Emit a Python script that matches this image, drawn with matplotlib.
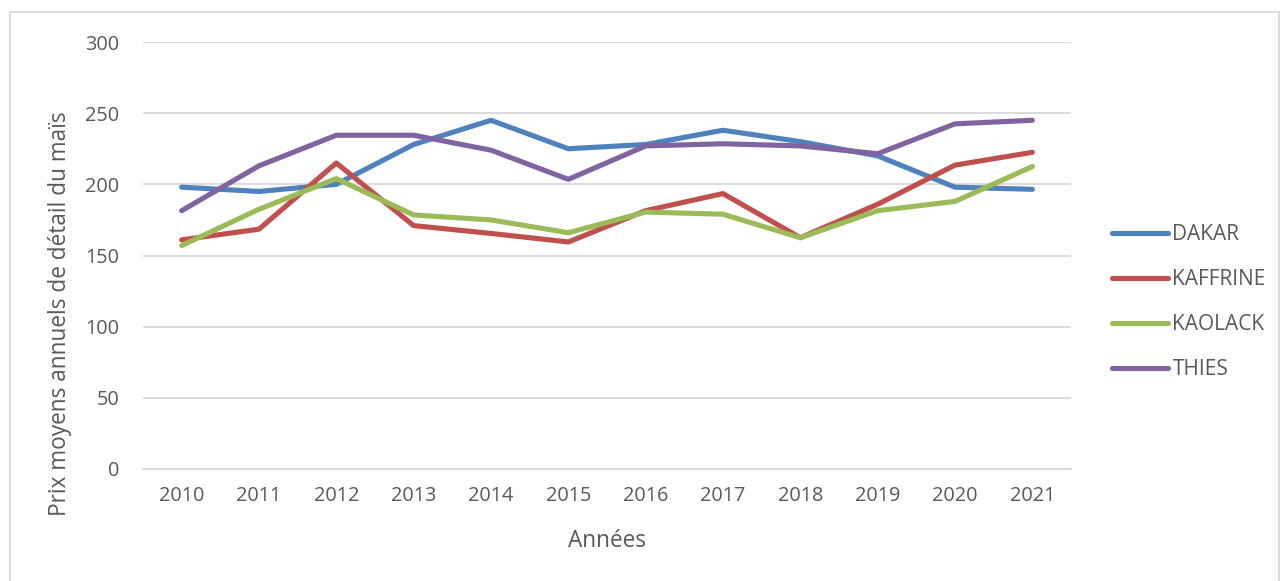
import matplotlib
matplotlib.use('Agg')
import matplotlib.pyplot as plt
from matplotlib.patches import Rectangle

plt.rcParams['font.family'] = ['Open Sans', 'DejaVu Sans']

years = ['2010', '2011', '2012', '2013', '2014', '2015',
         '2016', '2017', '2018', '2019', '2020', '2021']
dakar = [198, 195, 200, 228, 245, 225, 228, 238, 230, 220, 198, 196.5]
kaffrine = [161, 168.5, 215, 171, 165.5, 159.5, 181.5, 193.5, 162.5, 186, 213.5, 222.5]
kaolack = [157, 182.5, 204, 178.5, 175, 166, 180.5, 179, 162.5, 181.5, 188, 212.5]
thies = [181.5, 213, 234.5, 234.5, 224, 203.5, 227, 228.5, 227, 221.5, 242.5, 245]

series = [('DAKAR', dakar, '#4F81BD'),
          ('KAFFRINE', kaffrine, '#C0504D'),
          ('KAOLACK', kaolack, '#9BBB59'),
          ('THIES', thies, '#8064A2')]

TXT = '#595959'
W, H = 1282, 581
fig = plt.figure(figsize=(W / 100, H / 100), dpi=100)
ax = fig.add_axes([143 / W, 1 - 469 / H, (1071 - 143) / W, (469 - 42) / H])

x = range(len(years))
for name, vals, col in series:
    ax.plot(x, vals, color=col, lw=3.7, label=name, solid_capstyle='round',
            solid_joinstyle='round')

ax.set_xlim(-0.5, len(years) - 0.5)
ax.set_ylim(0, 300)
ax.set_yticks(range(0, 301, 50))
ax.set_xticks(list(x))
ax.set_xticklabels(years)
ax.grid(axis='y', color='#D9D9D9', lw=1.3)
ax.set_axisbelow(True)
for s in ['top', 'right', 'left']:
    ax.spines[s].set_visible(False)
ax.spines['bottom'].set_color('#D9D9D9')
ax.spines['bottom'].set_linewidth(1.3)
ax.tick_params(axis='both', length=0, labelsize=14.3, colors=TXT)
ax.tick_params(axis='y', pad=17)
ax.tick_params(axis='x', pad=12)

fig.text(60 / W, 1 - 314 / H, 'Prix moyens annuels de détail du maïs',
         rotation=90, ha='center', va='center', fontsize=16.3, color=TXT)
fig.text(607 / W, 1 - 541 / H, 'Années', ha='center', va='center',
         fontsize=16.3, color=TXT)

leg = fig.legend(loc='center left', bbox_to_anchor=(1112 / W, 1 - 302 / H),
                 frameon=False, fontsize=15, handlelength=2.7,
                 handletextpad=0.2, labelspacing=1.15, borderpad=0,
                 borderaxespad=0)
for t in leg.get_texts():
    t.set_color(TXT)

fig.patches.append(Rectangle((10 / W, -0.05), (1279 - 10) / W, 1 - 12 / H + 0.05,
                             transform=fig.transFigure, fill=False,
                             edgecolor='#D9D9D9', lw=1.3))

fig.savefig('out.png', dpi=100)
